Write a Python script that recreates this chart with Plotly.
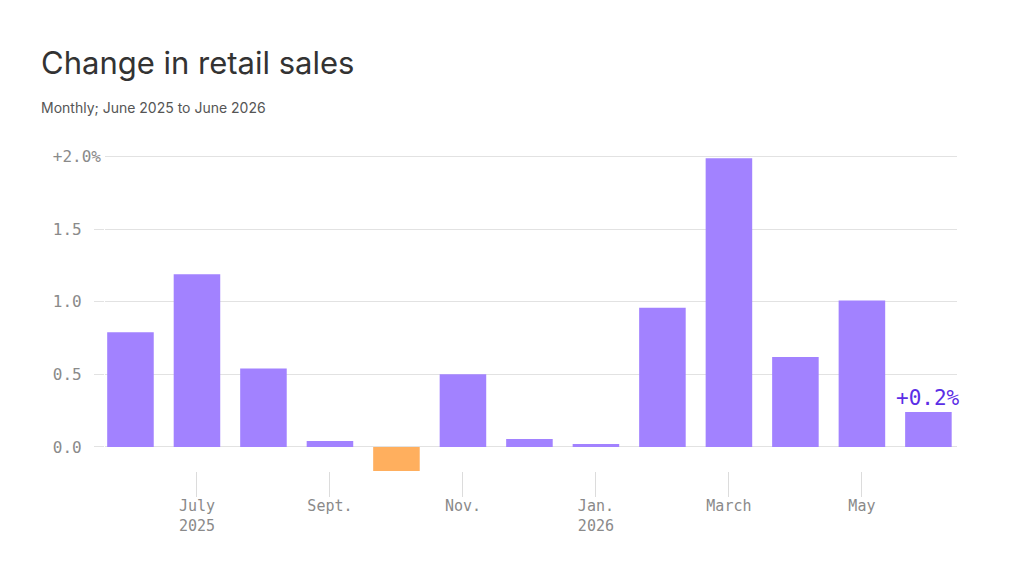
import plotly.graph_objects as go

# ---- data ----
months = ["2025-06", "2025-07", "2025-08", "2025-09", "2025-10", "2025-11", "2025-12",
          "2026-01", "2026-02", "2026-03", "2026-04", "2026-05", "2026-06"]
values = [0.79, 1.19, 0.54, 0.04, -0.17, 0.50, 0.055, 0.02, 0.96, 1.99, 0.62, 1.01, 0.24]
tick_months = ["2025-07", "2025-09", "2025-11", "2026-01", "2026-03", "2026-05"]
tick_labels = ["July<br>2025", "Sept.", "Nov.", "Jan.<br>2026", "March", "May"]
y_ticks = [0, 0.5, 1.0, 1.5, 2.0]
y_stub_ticks = [0, 0.5, 1.0, 1.5]
y_tick_labels = ["0.0\u00a0\u00a0", "0.5\u00a0\u00a0", "1.0\u00a0\u00a0", "1.5\u00a0\u00a0", "+2.0%"]
last_label = "+0.2%"

PURPLE = "#a282ff"
ORANGE = "#ffaf5e"
GRID = "#e2e2e2"
MONO = "DejaVu Sans Mono"

colors = [PURPLE if v >= 0 else ORANGE for v in values]

fig = go.Figure()
fig.add_trace(go.Bar(x=months, y=values, marker=dict(color=colors, line=dict(width=0)),
                     hoverinfo="skip"))
# invisible helper trace so the stub-tick axis gets drawn
fig.add_trace(go.Scatter(x=months, y=values, yaxis="y2", mode="markers",
                         marker=dict(opacity=0), hoverinfo="skip"))

W_PLOT = 1024 - 105 - 67
H_PLOT = 576 - 155 - 105

fig.update_layout(
    width=1024, height=576,
    margin=dict(l=105, r=67, t=155, b=105),
    paper_bgcolor="white", plot_bgcolor="white",
    showlegend=False,
    bargap=0.3,
    xaxis=dict(type="category", range=[-0.383, 12.43], tickmode="array",
               tickvals=tick_months, ticktext=tick_labels,
               ticks="outside", ticklen=25, tickcolor="#dcdcdc", tickwidth=1,
               ticklabelstandoff=-4,
               tickfont=dict(family=MONO, size=15, color="#8a8a8a"),
               showgrid=False, zeroline=False, showline=False),
    yaxis=dict(range=[-0.166, 2.012], tickmode="array", tickvals=y_ticks,
               ticktext=y_tick_labels, ticks="", ticklabelstandoff=3,
               tickfont=dict(family=MONO, size=16, color="#8a8a8a"),
               showgrid=True, gridcolor=GRID, gridwidth=1,
               zeroline=False, showline=False),
    yaxis2=dict(overlaying="y", matches="y", anchor="x", side="left",
                tickmode="array", tickvals=y_stub_ticks, ticks="outside",
                ticklen=10, tickcolor=GRID, tickwidth=1, showticklabels=False,
                showgrid=False, zeroline=False, showline=False),
    annotations=[
        dict(text="Change in retail sales", xref="paper", yref="paper",
             x=(39 - 105) / W_PLOT, y=1 + (155 - 62) / H_PLOT, xanchor="left", yanchor="middle",
             showarrow=False, font=dict(family="Inter", size=31, color="#333333")),
        dict(text="Monthly; June 2025 to June 2026", xref="paper", yref="paper",
             x=(39 - 105) / W_PLOT, y=1 + (155 - 107) / H_PLOT, xanchor="left", yanchor="middle",
             showarrow=False, font=dict(family="Inter", size=14, color="#555555")),
        dict(text=last_label, x=months[-1], y=values[-1], xref="x", yref="y",
             xanchor="center", yanchor="bottom", yshift=0, showarrow=False,
             font=dict(family=MONO, size=21, color="#5b2ee6")),
    ],
)

fig.write_html("out.html")
